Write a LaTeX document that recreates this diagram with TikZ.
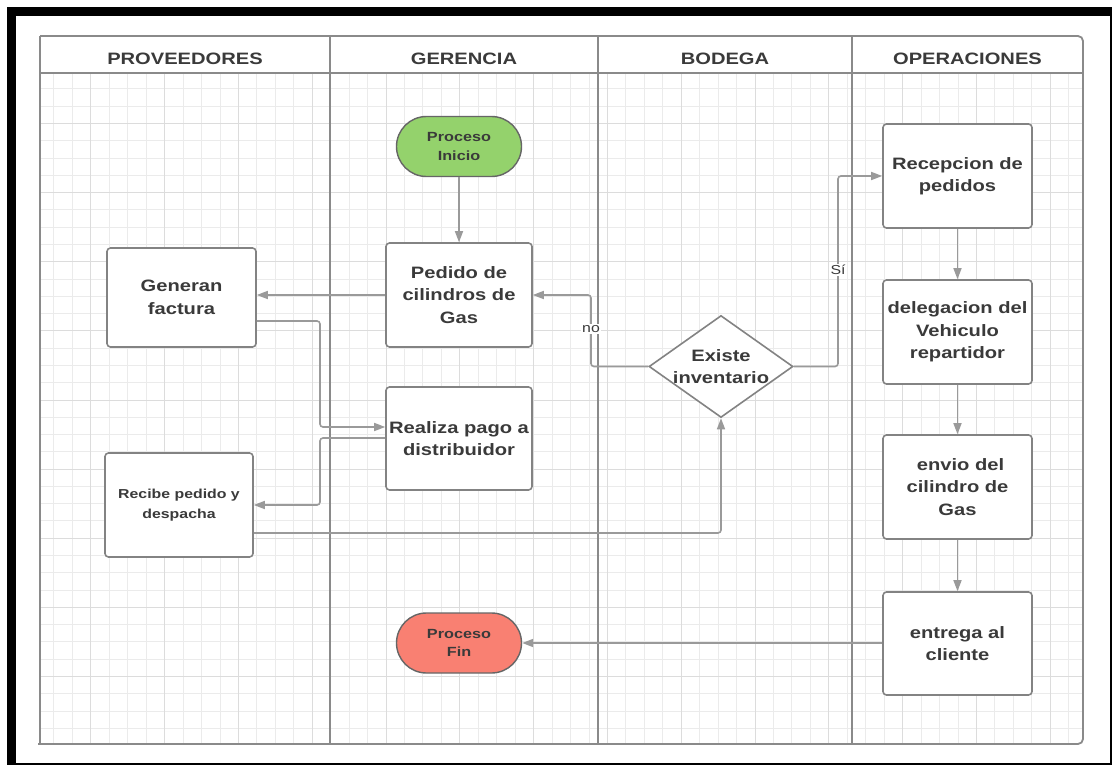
\documentclass[tikz,border=0pt]{standalone}
\usepackage{fontspec}
\setmainfont{Liberation Sans}
\newfontfamily\wide[FakeStretch=1.22]{Liberation Sans}
\usetikzlibrary{shapes.geometric,shapes.misc,arrows.meta}
\definecolor{txt}{HTML}{3A3A3A}
\definecolor{lanegray}{HTML}{8A8A8A}
\definecolor{boxgray}{HTML}{838383}
\definecolor{conngray}{HTML}{9A9A9A}
\definecolor{gridminor}{HTML}{EBEBEB}
\definecolor{gridmajor}{HTML}{DCDCDC}
\definecolor{startgreen}{RGB}{148,210,108}
\definecolor{endred}{RGB}{249,128,114}
\tikzset{
  lane/.style={draw=lanegray, line width=1.8pt},
  gminor/.style={draw=gridminor, line width=1pt},
  gmajor/.style={draw=gridmajor, line width=1pt},
  header/.style={font=\wide\bfseries\fontsize{16.5}{20}\selectfont, text=txt},
  box/.style={draw=boxgray, line width=1.6pt, rounded corners=3.5pt, fill=white,
    align=center, text=txt, inner sep=0pt,
    font=\wide\bfseries\fontsize{16.5}{22.5}\selectfont},
  smallbox/.style={box, font=\wide\bfseries\fontsize{13}{20}\selectfont},
  term/.style={rounded rectangle, draw=black!60, line width=1.4pt, align=center,
    text=txt, inner sep=0pt, minimum width=125pt, minimum height=60pt,
    font=\wide\bfseries\fontsize{13.3}{18.5}\selectfont},
  dec/.style={diamond, draw=boxgray, line width=1.6pt, fill=white, inner sep=0pt,
    minimum width=144pt, minimum height=102pt},
  dectext/.style={align=center, text=txt, inner sep=0pt,
    font=\wide\bfseries\fontsize{16.5}{22.5}\selectfont},
  conn/.style={draw=conngray, line width=1.6pt, rounded corners=3pt,
    -{Triangle[length=11pt,width=8pt]}},
  lbl/.style={fill=white, text=txt, inner sep=1pt,
    font=\wide\fontsize{13}{15}\selectfont}
}
\begin{document}
\begin{tikzpicture}[x=1pt,y=-1pt]
\useasboundingbox (0,0) rectangle (1112,765);
\fill[white] (0,0) rectangle (1112,765);
% outer black frame
\fill[black] (7,7) rectangle (16,765);
\fill[black] (7,7) rectangle (1112,16);
\fill[black] (1109.5,7) rectangle (1112,765);
\fill[black] (7,762.5) rectangle (1112,765);

% grid
\begin{scope}
\clip (40,73) rectangle (1083,744);
\foreach \k in {0,...,57}{
  \pgfmathsetmacro\xx{35.5+18.45*\k}
  \draw[gminor] (\xx,73) -- (\xx,744);
}
\foreach \k in {-19,...,20}{
  \pgfmathsetmacro\yy{400+17.28*\k}
  \draw[gminor] (40,\yy) -- (1083,\yy);
}
\foreach \k in {3,7,...,55}{
  \pgfmathsetmacro\xx{35.5+18.45*\k}
  \draw[gmajor] (\xx,73) -- (\xx,744);
}
\foreach \k in {-16,-12,...,20}{
  \pgfmathsetmacro\yy{400+17.28*\k}
  \draw[gmajor] (40,\yy) -- (1083,\yy);
}
\end{scope}

% lanes
\draw[lane, rounded corners=5pt] (40,36) -- (1083,36) -- (1083,744) -- (38,744);
\draw[lane] (40,36) -- (40,744);
\draw[lane] (40,73) -- (1083,73);
\draw[lane] (330,36) -- (330,744);
\draw[lane] (598,36) -- (598,744);
\draw[lane] (852,36) -- (852,744);

\node[header] (hprov) at (185,58.5) {PROVEEDORES};
\node[header] (hger) at (464,58.5) {GERENCIA};
\node[header] (hbod) at (725,58.5) {BODEGA};
\node[header] (hop) at (967.5,58.5) {OPERACIONES};

% nodes
\node[term, fill=startgreen] (ini) at (459,146.5) {Proceso\\Inicio};
\node[term, fill=endred] (fin) at (459,643) {Proceso\\Fin};

\node[box, minimum width=149pt, minimum height=99pt] (gen) at (181.5,297.5) {Generan\\factura};
\node[box, minimum width=146pt, minimum height=104pt] (ped) at (459,295) {Pedido de\\cilindros de\\Gas};
\node[box, minimum width=146pt, minimum height=103pt] (real) at (459,438.5) {Realiza pago a\\distribuidor};
\node[smallbox, minimum width=148pt, minimum height=104pt] (rec) at (179,505) {Recibe pedido y\\despacha};

\node[dec] (dia) at (721,366.5) {};
\node[dectext] (diatext) at (dia.center) {Existe\\inventario};

\node[box, minimum width=149pt, minimum height=104pt] (recep) at (957.5,176) {Recepcion de\\pedidos};
\node[box, minimum width=149pt, minimum height=104pt] (deleg) at (957.5,332) {delegacion del\\Vehiculo\\repartidor};
\node[box, minimum width=149pt, minimum height=104pt] (envio) at (957.5,487) {\hspace*{6pt}envio del\\cilindro de\\Gas};
\node[box, minimum width=149pt, minimum height=103pt] (entr) at (957.5,643.5) {entrega al\\cliente};

% connectors
\draw[conn] (ini.south) -- (ped.north);
\draw[conn] (ped.west) -- (ped.west -| gen.east);
\draw[conn] (gen.east |- 0,321) -- (320,321) -- (320,427) -- (real.west |- 0,427);
\draw[conn] (real.west |- 0,438) -- (320,438) -- (320,505) -- (rec.east |- 0,505);
\draw[conn] (rec.east |- 0,533) -- (dia.south |- 0,533) -- (dia.south);
\draw[conn] (dia.west) -- (591,366.5) -- (591,295) -- (ped.east);
\draw[conn] (dia.east) -- (838,366.5) -- (838,176) -- (recep.west);
\draw[conn] (recep.south) -- (deleg.north);
\draw[conn] (deleg.south) -- (envio.north);
\draw[conn] (envio.south) -- (entr.north);
\draw[conn] (entr.west |- fin.east) -- (fin.east);

\node[lbl] (lno) at (591,329) {no};
\node[lbl] (lsi) at (838,270) {Sí};
\end{tikzpicture}
\end{document}
